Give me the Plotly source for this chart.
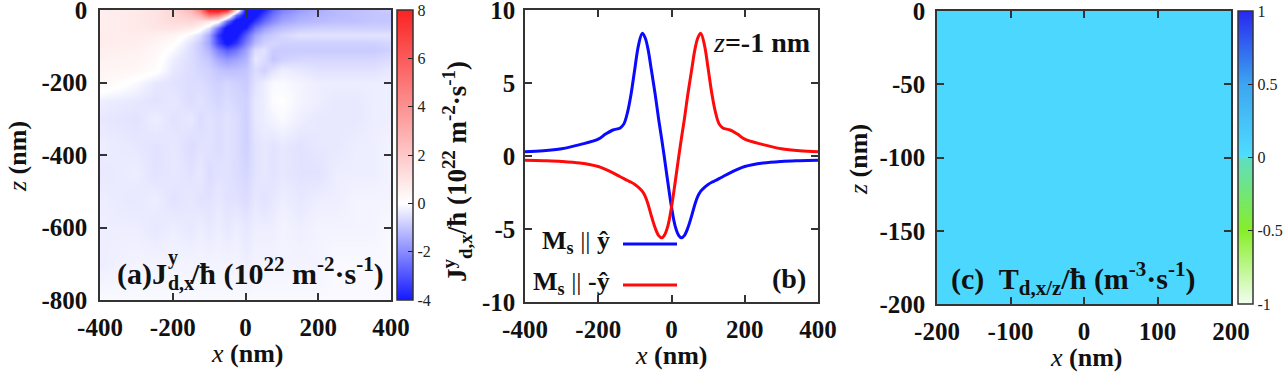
import plotly.graph_objects as go

W, H = 1285, 377

# ---------------- data: panel (a) heatmap ----------------
xa = [-400, -300, -250, -200, -150, -125, -100, -75, -50, -25, 0, 25, 50, 75, 100, 150, 200, 250, 300, 350, 400]
za_coords = [0, -15, -30, -50, -70, -90, -110, -135, -165, -200, -250, -300, -375, -450, -525, -600, -700, -800]
ja_z0 = [0.6, 0.8, 1.0, 1.5, 2.6, 4.5, 8.5, 9.0, 7.5, 1.5, -4.5, -4.5, -3.8, -2.8, -2.2, -1.7, -1.4, -1.2, -1.1, -1.0, -0.9]
ja_z15 = [0.6, 0.8, 1.0, 1.4, 2.0, 2.8, 5.0, 4.5, 1.8, -2.5, -4.5, -4.2, -3.2, -2.4, -1.9, -1.5, -1.3, -1.2, -1.1, -1.0, -1.0]
ja_z30 = [0.6, 0.8, 1.0, 1.3, 1.5, 1.3, 0.9, 0.2, -2.5, -4.5, -4.5, -3.5, -2.6, -2.0, -1.6, -1.3, -1.2, -1.1, -1.1, -1.0, -1.0]
ja_z50 = [0.6, 0.8, 0.9, 1.0, 0.7, 0.2, -0.6, -2.5, -4.5, -4.5, -3.8, -2.4, -1.7, -1.3, -1.1, -0.9, -0.8, -0.8, -0.8, -0.8, -0.8]
ja_z70 = [0.7, 0.7, 0.6, 0.4, -0.2, -0.6, -1.5, -3.5, -4.5, -4.2, -2.8, -1.6, -1.1, -0.9, -0.7, -0.5, -0.5, -0.5, -0.5, -0.5, -0.5]
ja_z90 = [0.7, 0.6, 0.4, 0.1, -0.5, -0.9, -1.6, -3.2, -4.2, -3.5, -2.2, -1.2, -0.8, -0.7, -0.8, -0.8, -0.8, -0.8, -0.8, -0.8, -0.7]
ja_z110 = [0.6, 0.5, 0.3, -0.1, -0.6, -0.9, -1.3, -2.2, -2.8, -2.4, -1.6, -0.6, -0.5, -0.9, -0.9, -0.9, -0.9, -0.9, -0.9, -0.9, -0.8]
ja_z135 = [0.5, 0.4, 0.2, -0.3, -0.6, -0.8, -1.0, -1.5, -1.8, -1.6, -1.3, -0.4, -0.6, -1.0, -0.8, -0.7, -0.7, -0.7, -0.7, -0.7, -0.6]
ja_z165 = [0.4, 0.3, 0.1, -0.4, -0.6, -0.7, -0.8, -1.0, -1.1, -1.1, -1.0, -0.6, -0.8, -0.5, -0.3, -0.4, -0.5, -0.5, -0.5, -0.5, -0.4]
ja_z200 = [0.3, -0.1, -0.4, -0.5, -0.6, -0.6, -0.7, -0.8, -0.7, -0.8, -0.9, -0.5, -0.3, -0.1, -0.1, -0.2, -0.3, -0.3, -0.3, -0.3, -0.3]
ja_z250 = [-0.3, -0.4, -0.5, -0.4, -0.6, -0.5, -0.6, -0.7, -0.6, -0.7, -0.8, -0.4, -0.3, -0.05, 0.0, -0.2, -0.3, -0.4, -0.4, -0.3, -0.3]
ja_z300 = [-0.4, -0.5, -0.3, -0.5, -0.4, -0.6, -0.5, -0.6, -0.5, -0.6, -0.8, -0.4, -0.3, -0.2, -0.1, -0.3, -0.4, -0.4, -0.4, -0.3, -0.3]
ja_z375 = [-0.3, -0.4, -0.5, -0.4, -0.6, -0.5, -0.5, -0.6, -0.5, -0.6, -0.8, -0.5, -0.4, -0.5, -0.4, -0.5, -0.4, -0.4, -0.3, -0.3, -0.2]
ja_z450 = [-0.4, -0.3, -0.5, -0.4, -0.5, -0.4, -0.6, -0.5, -0.5, -0.6, -0.7, -0.5, -0.4, -0.5, -0.4, -0.5, -0.5, -0.3, -0.3, -0.3, -0.2]
ja_z525 = [-0.3, -0.4, -0.3, -0.5, -0.4, -0.5, -0.5, -0.4, -0.5, -0.5, -0.6, -0.4, -0.5, -0.4, -0.3, -0.4, -0.3, -0.3, -0.2, -0.2, -0.2]
ja_z600 = [-0.3, -0.3, -0.4, -0.3, -0.4, -0.3, -0.4, -0.3, -0.4, -0.3, -0.4, -0.3, -0.3, -0.3, -0.2, -0.3, -0.2, -0.2, -0.2, -0.2, -0.1]
ja_z700 = [-0.3, -0.2, -0.2, -0.2, -0.2, -0.2, -0.2, -0.2, -0.2, -0.2, -0.3, -0.2, -0.2, -0.2, -0.2, -0.2, -0.2, -0.1, -0.1, -0.1, -0.1]
ja_z800 = [-0.1, -0.1, -0.1, -0.1, -0.1, -0.1, -0.1, -0.1, -0.1, -0.1, -0.1, -0.1, -0.1, -0.1, -0.1, -0.1, -0.1, -0.1, -0.1, -0.1, -0.1]

# ---------------- data: panel (b) line profiles at z = -1 nm ----------------
xb = [-400, -350, -300, -250, -200, -180, -160, -140, -130, -120, -110, -100, -90, -80, -72, -64, -55, -45, -35, -27,
      -20, -10, 0, 10, 20, 27, 35, 45, 55, 64, 72, 80, 90, 100, 110, 120, 130, 140, 160, 180, 200, 250, 300, 350, 400]
jb_plus_y = [0.29, 0.36, 0.5, 0.78, 1.15, 1.5, 1.78, 1.92, 2.2, 3.0, 4.3, 6.0, 7.6, 8.4, 8.1, 7.3, 5.9, 4.3, 2.5, 1.2,
             0.0, -1.8, -3.5, -4.8, -5.45, -5.6, -5.45, -4.9, -4.1, -3.3, -2.75, -2.4, -2.15, -1.95, -1.8, -1.68, -1.55,
             -1.42, -1.15, -0.92, -0.72, -0.48, -0.37, -0.32, -0.29]
jb_minus_y = [-0.29, -0.32, -0.37, -0.48, -0.72, -0.92, -1.15, -1.42, -1.55, -1.68, -1.8, -1.95, -2.15, -2.4, -2.75,
              -3.3, -4.1, -4.9, -5.45, -5.6, -5.45, -4.8, -3.5, -1.8, 0.0, 1.2, 2.5, 4.3, 5.9, 7.3, 8.1, 8.4, 7.6, 6.0,
              4.3, 3.0, 2.2, 1.92, 1.78, 1.5, 1.15, 0.78, 0.5, 0.36, 0.29]

# ---------------- data: panel (c) uniform torque map ----------------
xc = [-200, 200]
zc_coords = [-200, 0]
tc_vals = [[0.05, 0.05], [0.05, 0.05]]

# ---------------- tick labels ----------------
ticks_a_x = [-400, -200, 0, 200, 400]
ticks_a_y = [0, -200, -400, -600, -800]
ticks_a_cb = [8, 6, 4, 2, 0, -2, -4]
ticks_b_x = [-400, -200, 0, 200, 400]
ticks_b_y = [10, 5, 0, -5, -10]
ticks_c_x = [-200, -100, 0, 100, 200]
ticks_c_y = [0, -50, -100, -150, -200]
ticks_c_cb = [1, 0.5, 0, -0.5, -1]


def lab(v):
    return str(v)


FONT = "Liberation Serif"
AX = "#333333"


def px(x):
    return x / W


def py(y):
    return 1 - y / H


fig = go.Figure()

za = [ja_z0, ja_z15, ja_z30, ja_z50, ja_z70, ja_z90, ja_z110, ja_z135, ja_z165, ja_z200, ja_z250, ja_z300,
      ja_z375, ja_z450, ja_z525, ja_z600, ja_z700, ja_z800]

fig.add_trace(go.Heatmap(
    x=xa, y=za_coords, z=za, zmin=-4, zmax=8, zsmooth="best",
    colorscale=[[0, "rgb(20,25,255)"], [1 / 3, "rgb(255,255,255)"], [1, "rgb(250,35,35)"]],
    xaxis="x", yaxis="y", hoverinfo="skip",
    colorbar=dict(
        x=px(397), xanchor="left", xpad=0, ypad=0,
        y=py(155), yanchor="middle", len=290, lenmode="pixels", thickness=16,
        outlinecolor=AX, outlinewidth=1.5,
        tickvals=ticks_a_cb, ticktext=[lab(v) for v in ticks_a_cb],
        ticks="inside", ticklen=5, tickcolor="#222", tickwidth=1.2, ticklabeloverflow="allow",
        tickfont=dict(family=FONT, size=16, color="#222"),
    ),
))

fig.add_trace(go.Scatter(x=xb, y=jb_plus_y, mode="lines", line=dict(color="#0a0aff", width=3, shape="spline"),
                         xaxis="x2", yaxis="y2", showlegend=False))
fig.add_trace(go.Scatter(x=xb, y=jb_minus_y, mode="lines", line=dict(color="#ff0a0a", width=3, shape="spline"),
                         xaxis="x2", yaxis="y2", showlegend=False))

fig.add_trace(go.Heatmap(
    x=xc, y=zc_coords, z=tc_vals, zmin=-1, zmax=1,
    colorscale=[[0, "rgb(242,255,240)"], [0.25, "rgb(135,238,40)"], [0.5, "rgb(95,222,195)"],
                [0.5, "rgb(78,222,255)"], [0.75, "rgb(60,165,240)"], [1, "rgb(40,40,240)"]],
    xaxis="x3", yaxis="y3", hoverinfo="skip",
    colorbar=dict(
        x=px(1238), xanchor="left", xpad=0, ypad=0,
        y=py(157.5), yanchor="middle", len=293, lenmode="pixels", thickness=15,
        outlinecolor=AX, outlinewidth=1.5,
        tickvals=ticks_c_cb, ticktext=[lab(v) for v in ticks_c_cb],
        ticks="inside", ticklen=5, tickcolor="#222", tickwidth=1.2, ticklabeloverflow="allow",
        tickfont=dict(family=FONT, size=16, color="#222"),
    ),
))


def axis(domain, anchor, rng, tv, standoff):
    return dict(domain=domain, anchor=anchor, range=rng, tickvals=tv, ticktext=[lab(v) for v in tv],
                showline=True, linecolor=AX, linewidth=1.5, mirror="ticks", ticks="inside", ticklen=7,
                tickcolor=AX, tickwidth=1.5, showgrid=False, zeroline=False, ticklabeloverflow="allow",
                tickfont=dict(family=FONT, size=25, color="#111", weight="bold"),
                ticklabelstandoff=standoff, automargin=False)


fig.update_layout(
    width=W, height=H, autosize=False, margin=dict(l=0, r=0, t=0, b=0, autoexpand=False),
    paper_bgcolor="white", plot_bgcolor="white", showlegend=False,
    xaxis=axis([px(100), px(391)], "y", [-400, 400], ticks_a_x, 4),
    yaxis=axis([py(300), py(10)], "x", [-800, 0], ticks_a_y, 6),
    xaxis2=axis([px(525), px(818)], "y2", [-400, 400], ticks_b_x, 4),
    yaxis2=axis([py(302), py(10)], "x2", [-10, 10], ticks_b_y, 3),
    xaxis3=axis([px(937), px(1231)], "y3", [-200, 200], ticks_c_x, 4),
    yaxis3=axis([py(304), py(11)], "x3", [-200, 0], ticks_c_y, 5),
)

anns = []


def ann(text, x, y, size, xanchor="center", yanchor="middle", angle=0, color="#111"):
    anns.append(dict(text=text, x=px(x), y=py(y), xref="paper", yref="paper", showarrow=False,
                     xanchor=xanchor, yanchor=yanchor, textangle=angle, borderpad=0,
                     font=dict(family=FONT, size=size, color=color)))


# axis titles
ann("<i>x</i> <b>(nm)</b>", 247, 353, 26)
ann("<i>x</i> <b>(nm)</b>", 671, 355, 26)
ann("<i>x</i> <b>(nm)</b>", 1086, 357, 26)
ann("<i>z</i> <b>(nm)</b>", 17, 157, 26, angle=-90)
ann("<i>z</i> <b>(nm)</b>", 858, 160, 26, angle=-90)

# colorbar title of (a)
ann("<b>J<sup>y</sup><sub>d,x</sub>/ħ (10<sup>22</sup> m<sup>-2</sup>·s<sup>-1</sup>)</b>", 457, 172, 27, angle=-90)

# panel (a) label with stacked super/subscript
ann("<b>(a)J</b>", 168, 292, 30, xanchor="right", yanchor="bottom")
ann("<b>y</b>", 167, 270, 20, xanchor="left", yanchor="bottom")
ann("<b>d,x</b>", 167, 295, 20, xanchor="left", yanchor="bottom")
ann("<b>/ħ (10<sup>22</sup> m<sup>-2</sup>·s<sup>-1</sup>)</b>", 189, 292, 30, xanchor="left", yanchor="bottom")

# panel (b) annotations
ann("<i>z</i><b>=-1 nm</b>", 712, 42, 28, xanchor="left")
ann("<b>(b)</b>", 789, 278, 28)
ann("<b>M<sub>s</sub></b> || <b>ŷ</b>", 611, 242, 26, xanchor="right")
ann("<b>M<sub>s</sub></b> || <b>-ŷ</b>", 611, 283, 26, xanchor="right")

# panel (c) label
ann("<b>(c)  T<sub>d,x/z</sub>/ħ (m<sup>-3</sup>·s<sup>-1</sup>)</b>", 950, 278, 30, xanchor="left")

fig.update_layout(annotations=anns)

# legend sample lines for panel (b)
fig.update_layout(shapes=[
    dict(type="line", xref="paper", yref="paper", x0=px(623), x1=px(677), y0=py(244), y1=py(244),
         line=dict(color="#0a0aff", width=3)),
    dict(type="line", xref="paper", yref="paper", x0=px(623), x1=px(677), y0=py(285), y1=py(285),
         line=dict(color="#ff0a0a", width=3)),
])

fig.write_html("out.html", config={"displayModeBar": False},
               post_script="document.body.style.margin='0px';document.body.style.overflow='hidden';")
